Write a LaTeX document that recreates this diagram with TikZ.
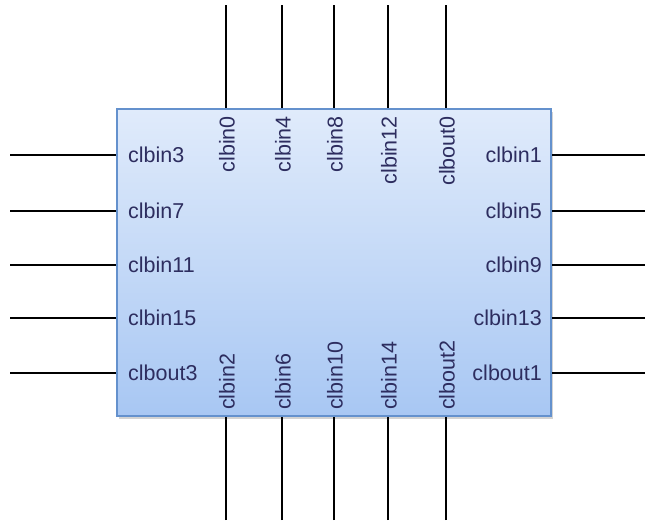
\documentclass[tikz,border=0pt]{standalone}
\usepackage{fontspec}
\setmainfont{Liberation Sans}
\usetikzlibrary{shadows}
\definecolor{txt}{RGB}{45,45,95}
\definecolor{boxtop}{RGB}{224,235,251}
\definecolor{boxbot}{RGB}{168,199,243}
\definecolor{boxline}{RGB}{100,145,205}
\tikzset{
  chip/.style={draw=boxline, line width=1.4pt, top color=boxtop, bottom color=boxbot, drop shadow={opacity=0.35, shadow xshift=1.5pt, shadow yshift=-3pt}},
  pin/.style={line width=1.6pt, black},
  lab/.style={font=\fontsize{21.5}{24}\selectfont, text=txt, inner sep=0pt},
}
\begin{document}
\begin{tikzpicture}[x=1pt,y=-1pt]
\useasboundingbox (0,0) rectangle (645,520);
\node[chip, minimum width=434pt, minimum height=307pt, inner sep=0pt] (box) at (334,262.5) {};
% left side
\foreach \n/\y in {clbin3/155, clbin7/211, clbin11/265, clbin15/318, clbout3/373}{
  \node[lab, anchor=west] (L\n) at (128,\y) {\n};
  \coordinate (Lf\n) at (10,\y);
  \coordinate (Lb\n) at (box.west |- 0,\y);
  \draw[pin] (Lf\n) -- (Lb\n);
}
% right side
\foreach \n/\y in {clbin1/155, clbin5/211, clbin9/265, clbin13/318, clbout1/373}{
  \node[lab, anchor=east] (R\n) at (542,\y) {\n};
  \coordinate (Rf\n) at (645,\y);
  \coordinate (Rb\n) at (box.east |- 0,\y);
  \draw[pin] (Rf\n) -- (Rb\n);
}
% top side
\foreach \n/\x in {clbin0/226, clbin4/282, clbin8/334, clbin12/388, clbout0/446}{
  \node[lab, rotate=90, anchor=east] (T\n) at (\x+1,116) {\n};
  \coordinate (Tf\n) at (\x,5);
  \coordinate (Tb\n) at (\x,0 |- box.north);
  \draw[pin] (Tf\n) -- (Tb\n);
}
% bottom side
\foreach \n/\x in {clbin2/226, clbin6/282, clbin10/334, clbin14/388, clbout2/446}{
  \node[lab, rotate=90, anchor=west] (B\n) at (\x+1,410) {\n};
  \coordinate (Bf\n) at (\x,520);
  \coordinate (Bb\n) at (\x,0 |- box.south);
  \draw[pin] (Bf\n) -- (Bb\n);
}
\end{tikzpicture}
\end{document}
